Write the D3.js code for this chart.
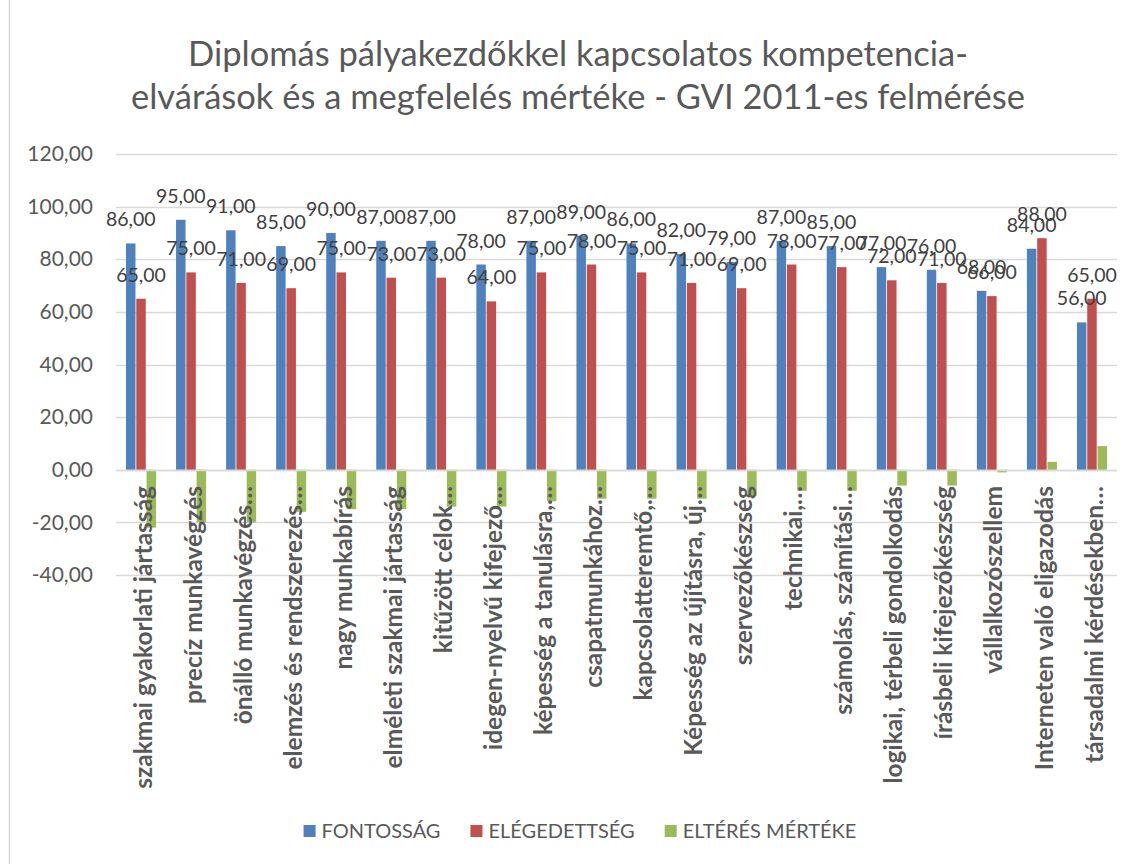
<!DOCTYPE html>
<html>
<head>
<meta charset="utf-8">
<script src="https://cdn.jsdelivr.net/npm/d3@7"></script>
<style>
  html, body { margin: 0; padding: 0; background: #fff; }
  svg { display: block; }
  text { font-family: Lato, "Open Sans", sans-serif; }
</style>
</head>
<body>
<svg id="chart" width="1133" height="864"></svg>
<script>
const titleLines = ["Diplomás pályakezdőkkel kapcsolatos kompetencia-", "elvárások és a megfelelés mértéke - GVI 2011-es felmérése"];
const categories = [
  "szakmai gyakorlati jártasság", "precíz munkavégzés", "önálló munkavégzés…",
  "elemzés és rendszerezés…", "nagy munkabírás", "elméleti szakmai jártasság",
  "kitűzött célok…", "idegen-nyelvű kifejező…", "képesség a tanulásra,…",
  "csapatmunkához…", "kapcsolatteremtő,…", "Képesség az újításra, új…",
  "szervezőkészség", "technikai,…", "számolás, számítási…",
  "logikai, térbeli gondolkodás", "írásbeli kifejezőkészség", "vállalkozószellem",
  "Interneten való eligazodás", "társadalmi kérdésekben…"
];
const seriesNames = ["FONTOSSÁG", "ELÉGEDETTSÉG", "ELTÉRÉS MÉRTÉKE"];
const fontossag = [86, 95, 91, 85, 90, 87, 87, 78, 87, 89, 86, 82, 79, 87, 85, 77, 76, 68, 84, 56];
const elegedettseg = [65, 75, 71, 69, 75, 73, 73, 64, 75, 78, 75, 71, 69, 78, 77, 72, 71, 66, 88, 65];
const elteres = [-22, -20, -20, -16, -15, -15, -14, -14, -12, -11, -11, -11, -10, -8, -8, -6, -6, -1, 3, 9];
const yTicks = [120, 100, 80, 60, 40, 20, 0, -20, -40];
const colors = ["#4f81bd", "#c0504d", "#9bbb59"];
const labeledSeries = [true, true, false];

const series = [fontossag, elegedettseg, elteres];
const svg = d3.select("#chart");
const W = 1133, H = 864;
const plot = { left: 116, right: 1117, top: 154, bottom: 575 };

const loc = d3.formatLocale({ decimal: ",", thousands: " ", grouping: [3], currency: ["", ""], minus: "-" });
const fmt = loc.format(".2f");

// frame line on the left
svg.append("line").attr("x1", 9.5).attr("x2", 9.5).attr("y1", 0).attr("y2", H)
  .attr("stroke", "#d9d9d9").attr("stroke-width", 1.5);

const y = d3.scaleLinear().domain([-40, 120]).range([plot.bottom, plot.top]);
const x0 = d3.scaleBand().domain(categories).range([plot.left, plot.right]).paddingInner(0.4).paddingOuter(0.2);
const x1 = d3.scaleBand().domain(d3.range(series.length)).range([0, x0.bandwidth()]).paddingInner(0.08);

// gridlines
svg.append("g").selectAll("line").data(yTicks).join("line")
  .attr("x1", plot.left).attr("x2", plot.right)
  .attr("y1", d => Math.round(y(d)) + 0.5).attr("y2", d => Math.round(y(d)) + 0.5)
  .attr("stroke", "#d9d9d9").attr("stroke-width", 1.5);

// y axis labels
const yAxis = d3.axisLeft(y).tickValues(yTicks).tickFormat(fmt).tickSize(0).tickPadding(0);
const gy = svg.append("g").attr("transform", `translate(93,0)`).call(yAxis);
gy.select(".domain").remove();
gy.selectAll("text").attr("fill", "#595959").style("font-size", "21px").style("font-family", "Lato, sans-serif");

// bars
const groups = svg.append("g").selectAll("g").data(categories).join("g")
  .attr("transform", d => `translate(${x0(d)},0)`);
groups.each(function (cat, ci) {
  const g = d3.select(this);
  series.forEach((vals, si) => {
    const v = vals[ci];
    g.append("rect")
      .attr("x", x1(si))
      .attr("width", x1.bandwidth())
      .attr("y", y(Math.max(0, v)))
      .attr("height", Math.abs(y(v) - y(0)))
      .attr("fill", colors[si]);
  });
});

// x axis line (zero)
svg.append("line").attr("x1", plot.left).attr("x2", plot.right)
  .attr("y1", Math.round(y(0)) + 0.5).attr("y2", Math.round(y(0)) + 0.5)
  .attr("stroke", "#d9d9d9").attr("stroke-width", 1.5);

// data labels
groups.each(function (cat, ci) {
  const g = d3.select(this);
  series.forEach((vals, si) => {
    if (!labeledSeries[si]) return;
    const v = vals[ci];
    g.append("text")
      .attr("x", x1(si) + x1.bandwidth() / 2)
      .attr("y", y(v) - 17)
      .attr("text-anchor", "middle")
      .attr("fill", "#404040")
      .style("font-size", "19.5px")
      .text(fmt(v));
  });
});

// category labels
svg.append("g").selectAll("text").data(categories).join("text")
  .attr("transform", d => `translate(${x0(d) + x0.bandwidth() / 2 + 2},486) rotate(-90)`)
  .attr("text-anchor", "end")
  .attr("dy", "0.35em")
  .attr("fill", "#595959")
  .style("font-size", "24.5px")
  .style("font-weight", "bold")
  .text(d => d);

// title
svg.append("g").selectAll("text").data(titleLines).join("text")
  .attr("x", 578).attr("y", (d, i) => 66 + i * 43)
  .attr("text-anchor", "middle")
  .attr("fill", "#595959")
  .style("font-size", "34.5px")
  .text(d => d);

// legend
const lg = svg.append("g").selectAll("g").data(seriesNames).join("g");
lg.append("rect").attr("x", 0).attr("y", -6).attr("width", 12).attr("height", 12)
  .attr("fill", (d, i) => colors[i]);
lg.append("text").attr("x", 18).attr("y", 0).attr("dy", "0.35em")
  .attr("fill", "#595959").style("font-size", "20px").text(d => d);
const widths = [];
lg.each(function () { widths.push(this.getBBox().width); });
const gap = 30;
const total = d3.sum(widths) + gap * (widths.length - 1);
let cx = 580 - total / 2;
lg.attr("transform", (d, i) => {
  const t = `translate(${cx},831)`;
  cx += widths[i] + gap;
  return t;
});
</script>
</body>
</html>
